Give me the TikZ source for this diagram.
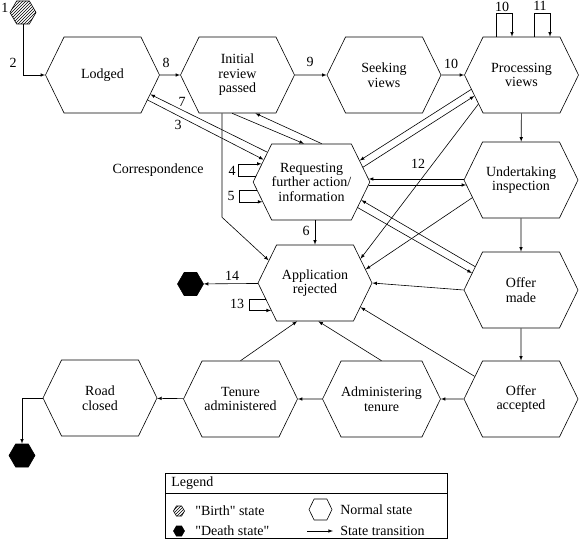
\documentclass[tikz,border=0pt]{standalone}
\usepackage{fontspec}
\setmainfont{Liberation Serif}
\usetikzlibrary{shapes.symbols, patterns}

\begin{document}
\begin{tikzpicture}[x=1pt, y=-1pt, >=latex, line width=0.6pt, font=\fontsize{14}{14.5}\selectfont]
	\tikzstyle{hex} = [draw, signal, signal to=west and east, signal pointer angle=128, minimum width=114pt, minimum height=76pt, inner sep=0pt, align=center]
	\tikzstyle{start} = [draw, signal, signal to=west and east, signal pointer angle=120, minimum width=26pt, minimum height=23pt, inner sep=0pt, pattern=north east lines]
	\tikzstyle{final} = [draw, signal, signal to=west and east, signal pointer angle=120, minimum width=26pt, minimum height=23pt, inner sep=0pt, fill=black]
	\tikzstyle{invis} = [draw=none, inner sep=1pt]
	
	\useasboundingbox (0, 0) rectangle (581, 540);
	
	% states
	\node[start] 	at (23, 12.5) 		(birth) 	{};
	\node[hex] 	at (102.5, 75) 		(lodged) 	{Lodged};
	\node[hex] 	at (237.5, 75) 		(initial) 	{Initial\\review\\passed};
	\node[hex] 	at (384, 75) 		(seeking) 	{Seeking\\views};
	\node[hex] 	at (521.5, 75) 		(processing) 	{Processing\\views};
	\node[hex] 	at (311.5, 182) 	(requesting) 	{Requesting\\further action/\\information};
	\node[hex] 	at (521, 180) 		(undertaking) 	{Undertaking\\inspection};
	\node[hex] 	at (315, 283) 		(rejected) 	{Application\\rejected};
	\node[hex] 	at (521, 290) 		(offer) 	{Offer\\made};
	\node[hex] 	at (521, 399) 		(accepted) 	{Offer\\accepted};
	\node[hex] 	at (381.5, 399) 	(administering) {Administering\\tenure};
	\node[hex] 	at (240.5, 399) 	(tenure) 	{Tenure\\administered};
	\node[hex] 	at (100, 398) 		(road) 		{Road\\closed};
	\node[final] 	at (190.5, 284) 	(dead1) 	{};
	\node[final] 	at (22, 455.5) 		(dead2) 	{};
	
	% labels
	\node[invis] 	at (5, 8) 		(l1) 	{1};
	\node[invis] 	at (13, 63) 		(l2) 	{2};
	\node[invis] 	at (166, 63) 		(l8) 	{8};
	\node[invis] 	at (310, 62) 		(l9) 	{9};
	\node[invis] 	at (451, 64) 		(l10a) 	{10};
	\node[invis] 	at (502, 7) 		(l10b) 	{10};
	\node[invis] 	at (540, 6) 		(l11) 	{11};
	\node[invis] 	at (182, 102) 		(l7) 	{7};
	\node[invis] 	at (178, 125) 		(l3) 	{3};
	\node[invis] 	at (232, 171) 		(l4) 	{4};
	\node[invis] 	at (231, 196) 		(l5) 	{5};
	\node[invis] 	at (306, 231) 		(l6) 	{6};
	\node[invis] 	at (418, 164) 		(l12) 	{12};
	\node[invis] 	at (237, 304) 		(l13) 	{13};
	\node[invis] 	at (232, 276) 		(l14) 	{14};
	\node[invis] 	at (158, 170) 		(corr) 	{Correspondence};
	
	\path[->]
	(lodged)	edge	(initial)
	(initial)	edge	(seeking)
	(seeking)	edge	(processing)
	(processing)	edge	(undertaking)
	(undertaking)	edge	(offer)
	(offer)		edge	(accepted)
	(accepted)	edge	(administering)
	(administering)	edge	(tenure)
	(tenure)	edge	(road)
	(rejected)	edge	(dead1)
	(offer.west)	edge	(rejected.east)
	(rejected.north |- requesting.south)	edge	(rejected.north)
	(requesting.146)	edge	(lodged.-22)
	(lodged.-29)	edge	(requesting.155)
	(initial.-98)	edge	(requesting.101)
	(requesting.75)	edge	(initial.-65)
	(processing.196)	edge	(requesting.24)
	(requesting.16.5)	edge	(processing.204.5)
	(processing.214)	edge	(rejected.28)
	([yshift=1pt]undertaking.west)	edge	([xshift=-1.5pt, yshift=3pt]requesting.east)
	([xshift=-1.5pt, yshift=-3pt]requesting.east)	edge	([xshift=2.5pt, yshift=-5pt]undertaking.west)
	(undertaking.200)	edge	(rejected.15)
	(offer.153)	edge	(requesting.-20)
	(requesting.-29)	edge	(offer.161)
	(accepted.154)	edge	(rejected.-28)
	(administering.north)	edge	(rejected.-85)
	(tenure.north)	edge	(rejected.-115);
	
	\draw[->] (birth.south) |- (lodged.west);
	\draw[->] (initial.-112) -- ++(0, 104) -- (rejected.154);
	\draw[->] (requesting.174) -- ++(-17, 0) |- (requesting.160.5);
	\draw[->] (requesting.189) -- ++(-18, 0) |- (requesting.202);
	\draw[->] (rejected.198) -- ++(-16, 0) |- (rejected.212);
	\draw[->] (road.west) -| (dead2.north);
	\draw[->] ([xshift=-25.5pt]processing.north) -- ++(0, -23) -| ([xshift=-9.5pt]processing.north);
	\draw[->] ([xshift=12.5pt]processing.north) -- ++(0, -23) -| ([xshift=28.5pt]processing.north);
	
	% legend
	\draw (165, 473) rectangle (447, 538);
	\draw (165, 493) -- (447, 493);
	\node[invis, anchor=west] 	at (170, 483) 	(legend) 	{Legend};
	\node[start, minimum width=11pt, minimum height=10pt] 	at (179, 511) 	(kbirth) 	{};
	\node[final, minimum width=11pt, minimum height=10pt] 	at (179, 531) 	(kdeath) 	{};
	\node[hex, minimum width=23pt, minimum height=21pt] 	at (320.5, 509.5) 	(knormal) 	{};
	\node[invis, anchor=west] 	at (194, 511) 	(tbirth) 	{\textquotedbl Birth\textquotedbl{} state};
	\node[invis, anchor=west] 	at (194, 531) 	(tdeath) 	{\textquotedbl Death state\textquotedbl};
	\node[invis, anchor=west] 	at (339, 510) 	(tnormal) 	{Normal state};
	\node[invis, anchor=west] 	at (339, 531) 	(tarrow) 	{State transition};
	\coordinate (ka) at (307, 531);
	\coordinate (kb) at (333, 531);
	\draw[->] (ka) -- (kb);
\end{tikzpicture}
\end{document}
